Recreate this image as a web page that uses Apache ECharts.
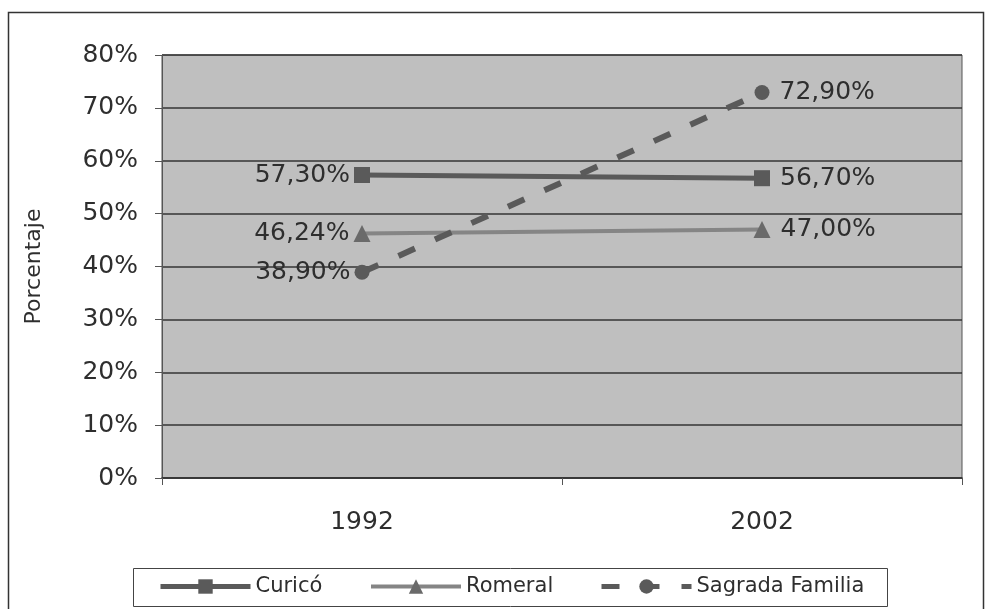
<!DOCTYPE html>
<html>
<head>
<meta charset="utf-8">
<script src="https://cdn.jsdelivr.net/npm/echarts@6/dist/echarts.min.js"></script>
<style>
  html, body { margin: 0; padding: 0; background: #fff; }
  #chart { width: 988px; height: 609px; }
</style>
</head>
<body>
<div id="chart"></div>
<script>
// Population share by commune, census years
const years = ['1992', '2002'];
const curico = [57.30, 56.70];
const romeral = [46.24, 47.00];
const sagradaFamilia = [38.90, 72.90];
const yTicks = ['0%', '10%', '20%', '30%', '40%', '50%', '60%', '70%', '80%'];

const FONT = 'DejaVu Sans';
const TEXT = '#2e2e2e';
const fmt = v => v.toFixed(2).replace('.', ',') + '%';

function withLabels(values) {
  return values.map((v, i) => ({
    value: v,
    label: {
      show: true,
      position: i === 0 ? 'left' : 'right',
      distance: i === 0 ? 4 : 10,
      formatter: p => fmt(p.value),
      fontFamily: FONT,
      fontSize: 25,
      color: TEXT
    }
  }));
}

const legendText = { fontFamily: FONT, fontSize: 21, color: TEXT };

const chart = echarts.init(document.getElementById('chart'));
chart.setOption({
  animation: false,
  backgroundColor: '#fff',
  graphic: [
    {
      // outer chart frame
      type: 'rect',
      shape: { x: 8.5, y: 12.5, width: 975, height: 610 },
      style: { fill: 'none', stroke: '#333', lineWidth: 1.5 },
      z: -1
    },
    {
      // legend frame
      type: 'rect',
      shape: { x: 133.5, y: 568.5, width: 754, height: 38 },
      style: { fill: '#fff', stroke: '#444', lineWidth: 1 },
      z: -1
    }
  ],
  grid: {
    left: 162, right: 26, top: 55, bottom: 131,
    show: true,
    backgroundColor: '#bfbfbf',
    borderColor: '#555',
    borderWidth: 1
  },
  xAxis: {
    type: 'category',
    data: years,
    boundaryGap: true,
    axisLine: { lineStyle: { color: '#333', width: 1.5 } },
    axisTick: { show: true, alignWithLabel: false, length: 7, lineStyle: { color: '#555' } },
    axisLabel: { fontFamily: FONT, fontSize: 25, color: TEXT, margin: 32 }
  },
  yAxis: {
    type: 'value',
    min: 0, max: 80, interval: 10,
    name: 'Porcentaje',
    nameLocation: 'middle',
    nameRotate: 90,
    nameGap: 117,
    nameTextStyle: { fontFamily: FONT, fontSize: 22, color: TEXT },
    axisLine: { show: true, lineStyle: { color: '#555', width: 1 } },
    axisTick: { show: true, length: 7, lineStyle: { color: '#555' } },
    axisLabel: {
      fontFamily: FONT, fontSize: 25, color: TEXT, margin: 24,
      formatter: v => yTicks[Math.round(v / 10)]
    },
    splitLine: { show: true, lineStyle: { color: '#353535', width: 1.5 } }
  },
  legend: [
    {
      left: 153, top: 571,
      data: ['Curicó'],
      itemWidth: 90, itemHeight: 18, itemGap: 4,
      lineStyle: { width: 5 },
      textStyle: legendText
    },
    {
      left: 364, top: 571,
      data: ['Romeral'],
      itemWidth: 90, itemHeight: 18,
      lineStyle: { width: 4 },
      textStyle: legendText
    },
    {
      left: 594, top: 571,
      data: ['Sagrada Familia'],
      itemWidth: 90, itemHeight: 18,
      lineStyle: { width: 5 },
      textStyle: legendText
    }
  ],
  series: [
    {
      name: 'Curicó',
      type: 'line',
      data: withLabels(curico),
      symbol: 'rect',
      symbolSize: 16,
      lineStyle: { color: '#5a5a5a', width: 5 },
      itemStyle: { color: '#5a5a5a' }
    },
    {
      name: 'Romeral',
      type: 'line',
      data: withLabels(romeral),
      symbol: 'triangle',
      symbolSize: 17,
      lineStyle: { color: '#858585', width: 4 },
      itemStyle: { color: '#6a6a6a' }
    },
    {
      name: 'Sagrada Familia',
      type: 'line',
      data: withLabels(sagradaFamilia),
      symbol: 'circle',
      symbolSize: 15,
      lineStyle: { color: '#5a5a5a', width: 6, type: [18, 22] },
      itemStyle: { color: '#5a5a5a' }
    }
  ]
});
</script>
</body>
</html>
